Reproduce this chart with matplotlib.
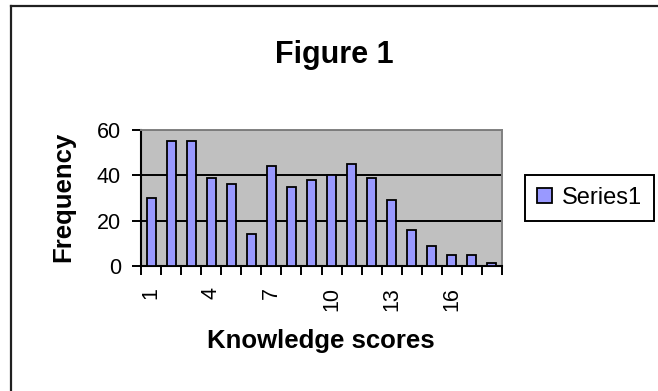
import matplotlib
matplotlib.use("Agg")
import matplotlib.pyplot as plt
from matplotlib.lines import Line2D

plt.rcParams['font.family'] = ['Liberation Sans', 'DejaVu Sans']

scores = list(range(1, 19))
frequency = [30, 55, 55, 39, 36, 14, 44, 35, 38, 40, 45, 39, 29, 16, 9, 5, 5, 1.5]
tick_labels = ['1', '4', '7', '10', '13', '16']
series_name = 'Series1'

W, H = 658, 391
fig = plt.figure(figsize=(W / 100, H / 100), dpi=100)
fig.patch.set_facecolor('white')

def fx(px):
    return px / W

def fy(py):
    return 1 - py / H

# outer chart border (only top/left visible in crop)
fig.add_artist(Line2D([fx(11), fx(11)], [0, fy(6)], color='#202020', lw=1.6,
                      transform=fig.transFigure))
fig.add_artist(Line2D([fx(11), 1], [fy(6), fy(6)], color='#202020', lw=1.6,
                      transform=fig.transFigure))

left, right, top, bottom = 141, 502, 130, 266
ax = fig.add_axes([fx(left), fy(bottom), (right - left) / W, (bottom - top) / H])
ax.set_facecolor('#c0c0c0')

ax.bar(scores, frequency, width=0.45, color='#9999ff', edgecolor='black',
       linewidth=1.3, zorder=3, label=series_name)

ax.set_xlim(0.5, 18.5)
ax.set_ylim(0, 60)
ax.set_yticks([0, 20, 40, 60])
ax.yaxis.grid(True, color='black', linewidth=1.4, zorder=1)
ax.set_axisbelow(True)

ax.set_xticks([int(t) for t in tick_labels])
ax.set_xticklabels(tick_labels, rotation=90, fontsize=15.5)
ax.set_xticks([i + 0.5 for i in range(0, 19)], minor=True)
ax.tick_params(axis='x', which='major', length=0, pad=15)
ax.tick_params(axis='x', which='minor', length=6.5, width=1.4, direction='out', color='black')
ax.tick_params(axis='y', length=6.5, width=1.4, direction='out', labelsize=15.5, pad=8)

for s in ['top', 'right']:
    ax.spines[s].set_color('#808080')
    ax.spines[s].set_linewidth(1.4)
for s in ['left', 'bottom']:
    ax.spines[s].set_color('black')
    ax.spines[s].set_linewidth(1.5)

fig.text(fx(70), fy(196.5), 'Frequency', rotation=90, rotation_mode='anchor',
         ha='center', va='baseline', fontsize=18.5, fontweight='bold')
fig.text(fx(321), fy(348), 'Knowledge scores', ha='center', va='baseline',
         fontsize=18.5, fontweight='bold')
fig.text(fx(334.5), fy(63), 'Figure 1', ha='center', va='baseline', fontsize=22,
         fontweight='bold')

leg = ax.legend(loc='upper left', bbox_to_anchor=(fx(525), fy(175)),
                bbox_transform=fig.transFigure, frameon=True, fancybox=False,
                fontsize=17, handlelength=0.65, handleheight=0.65, handletextpad=0.4,
                borderpad=0.5, borderaxespad=0)
leg.get_frame().set_edgecolor('black')
leg.get_frame().set_linewidth(1.4)
leg.get_frame().set_alpha(1)

fig.savefig('out.png', dpi=100, facecolor='white')
